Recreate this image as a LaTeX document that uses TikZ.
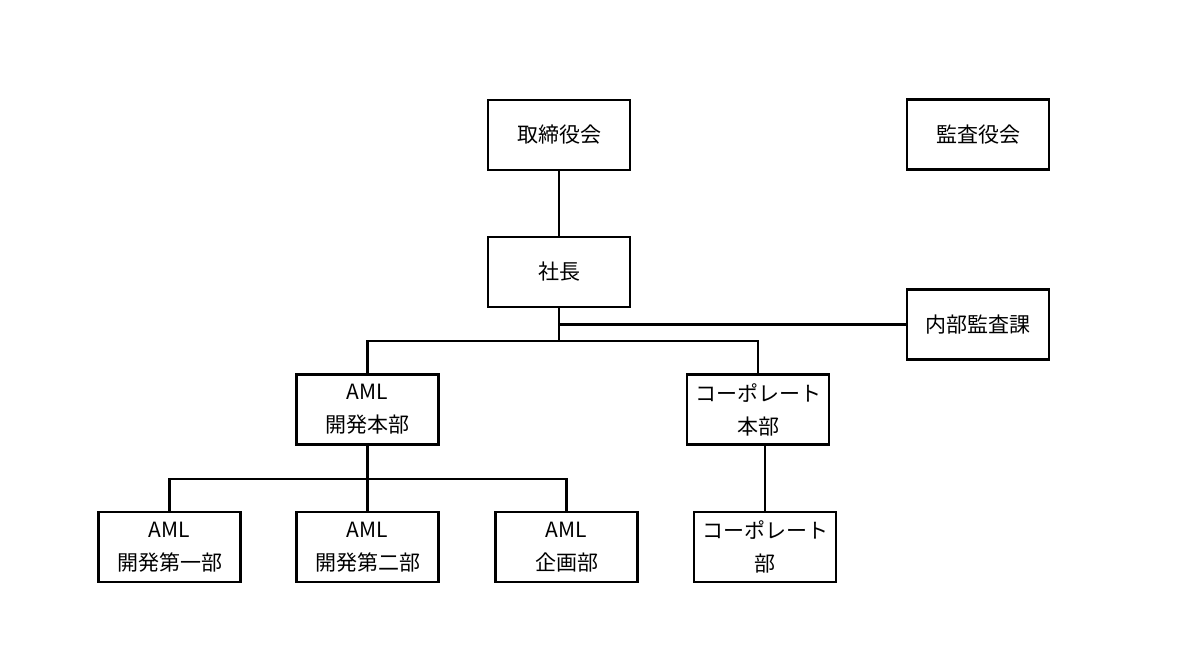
\documentclass[tikz,border=0pt]{standalone}
\usepackage{fontspec}
\setmainfont{Noto Sans CJK JP}
\begin{document}
\begin{tikzpicture}[x=1pt,y=-1pt,
  box/.style={draw=black,line width=2.7pt,minimum width=142pt,minimum height=70pt,inner sep=0pt,align=center,font=\fontsize{21pt}{33pt}\selectfont},
  conn/.style={draw=black,line width=2.4pt},
  thin/.style={draw=black,line width=1.8pt}]
\useasboundingbox (0,0) rectangle (1190,648);
\node[box] (board) at (559,135) {取締役会};
\node[box] (audit) at (978,134.5) {監査役会};
\node[box] (pres) at (559,272) {社長};
\node[box] (internal) at (978,324.5) {内部監査課};
\node[box] (amldev) at (367.5,409.5) {AML\\開発本部};
\node[box] (corp) at (758,409.5) {コーポレート\\本部};
\node[box] (aml1) at (169.5,547) {AML\\開発第一部};
\node[box] (aml2) at (367.5,547) {AML\\開発第二部};
\node[box] (amlp) at (566.5,547) {AML\\企画部};
\node[box] (corpd) at (765,547) {コーポレート\\部};
\coordinate (pbus) at (559,341);
\coordinate (dbus) at (367.5,479);
\draw[thin] (board.south) -- (pres.north);
\draw[conn] (pres.south) -- (pbus);
\draw[conn] (internal.west) -- (internal.west -| pres.south);
\draw[conn] (amldev.north) |- (pbus) -| (corp.north);
\draw[conn] (amldev.south) -- (dbus);
\draw[conn] (aml1.north) |- (dbus) -| (amlp.north);
\draw[conn] (aml2.north) -- (dbus);
\draw[conn] (corpd.north) -- (corpd.north |- corp.south);
\end{tikzpicture}
\end{document}
